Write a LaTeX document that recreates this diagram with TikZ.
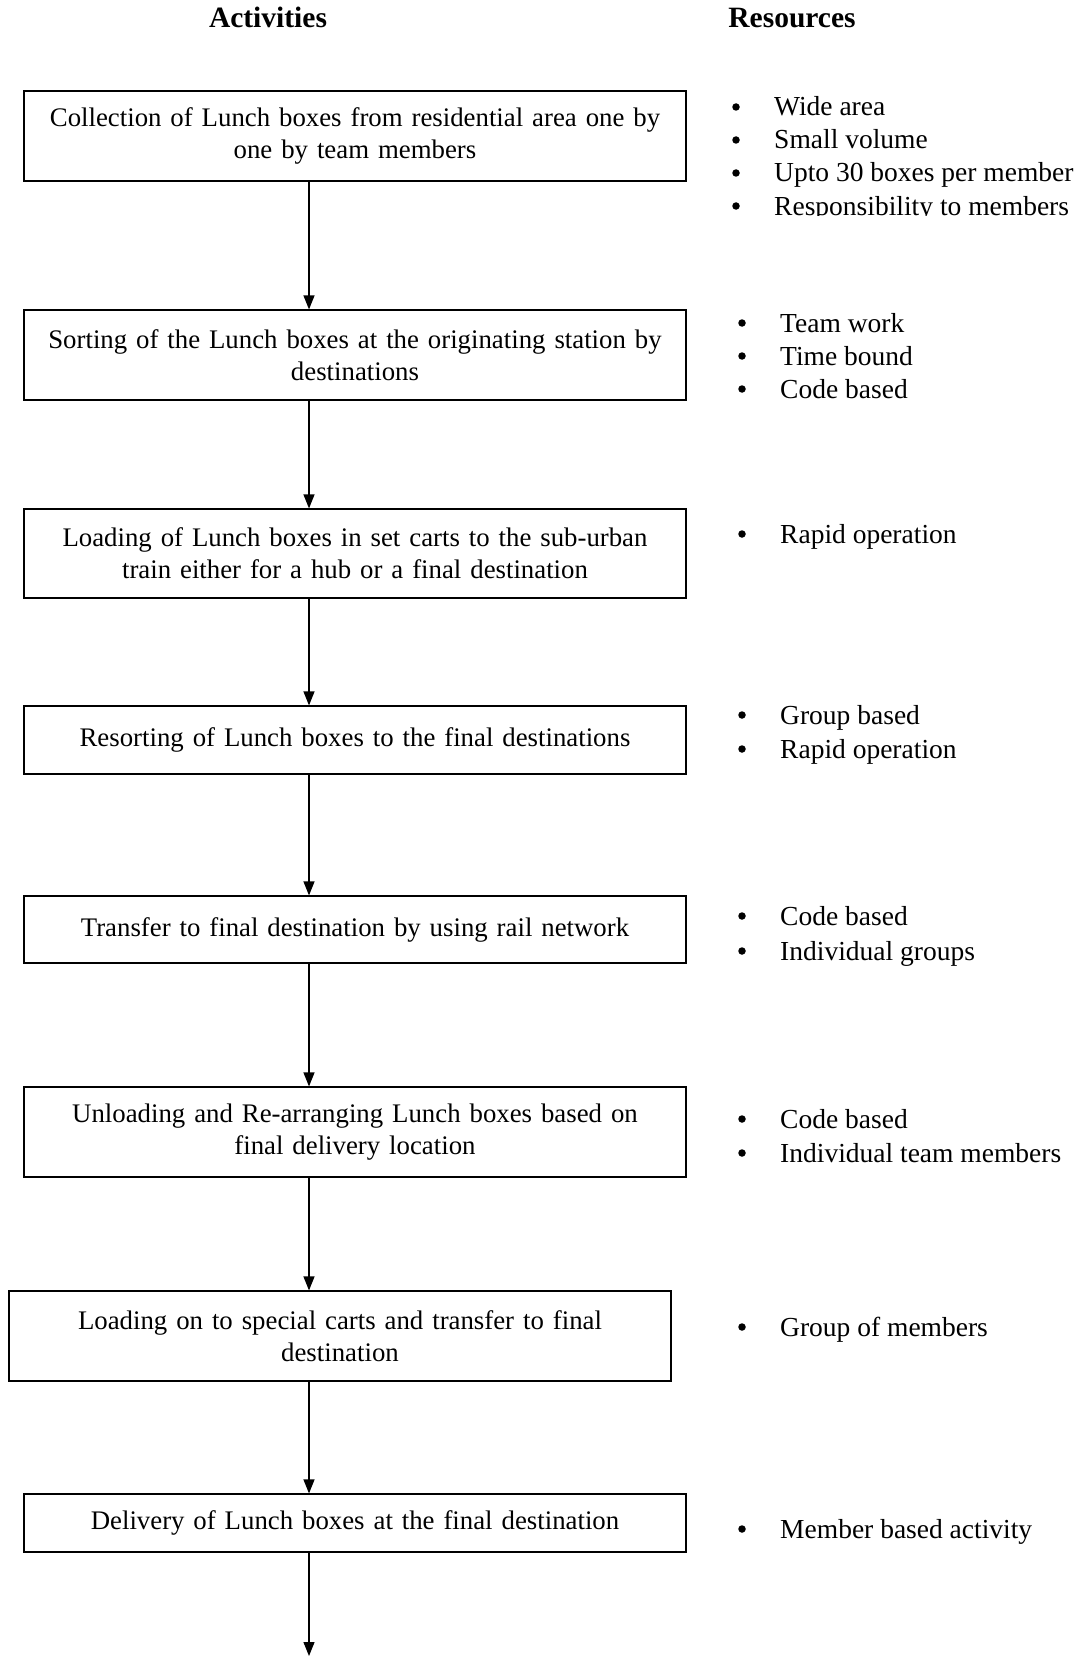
\documentclass[tikz,border=0pt]{standalone}
\usepackage{fontspec}
\setmainfont{Liberation Serif}
\usetikzlibrary{arrows.meta, positioning}

\tikzset{
  stage/.style={draw, line width=1.2pt, inner sep=0pt, text width=662pt, align=center, minimum height=#1,
    font=\fontsize{26.8}{32}\selectfont},
  stage/.default=90pt,
  flow/.style={line width=1.2pt, -{Triangle[length=14pt,width=11pt]}},
  item/.style={anchor=base west, inner sep=0pt},
  dot/.style={circle, fill, inner sep=0pt, minimum size=7.5pt},
  head/.style={anchor=base, inner sep=0pt, font=\fontsize{29.5}{33}\selectfont\bfseries}
}

\begin{document}
\begin{tikzpicture}[x=1pt, y=-1pt, font=\fontsize{27.5}{33}\selectfont]
\useasboundingbox (0,0) rectangle (1078,1656);

% headings
\node[head] (hact) at (268,28) {Activities};
\node[head] (hres) at (792,28) {Resources};

% activity boxes
\node[stage] (b1) at (355,136) {Collection of Lunch boxes from residential area one by\\one by team members};
\node[stage] (b2) at (355,355) {Sorting of the Lunch boxes at the originating station by\\destinations};
\node[stage=89pt] (b3) at (355,553.5) {Loading of Lunch boxes in set carts to the sub-urban\\train either for a hub or a final destination};
\node[stage=68pt] (b4) at (355,740) {Resorting of Lunch boxes to the final destinations};
\node[stage=67pt] (b5) at (355,929.5) {Transfer to final destination by using rail network};
\node[stage] (b6) at (355,1132) {Unloading and Re-arranging Lunch boxes based on\\final delivery location};
\node[stage] (b7) at (340,1336) {Loading on to special carts and transfer to final\\destination};
\node[stage=58pt] (b8) at (355,1523) {Delivery of Lunch boxes at the final destination};

\coordinate (ax) at (309,0);
\coordinate (tail) at (309,1656);

% arrows
\foreach \a/\b in {b1/b2, b2/b3, b3/b4, b4/b5, b5/b6, b6/b7, b7/b8}
  \draw[flow] (\a.south -| ax) -- (\b.north -| ax);
\draw[flow] (b8.south -| ax) -- (tail);

% resources
\begin{scope}
\clip (690,60) rectangle (1078,215);
\foreach \t [count=\i] in {Wide area, Small volume, Upto 30 boxes per member, Responsibility to members}{
  \node[dot] at (736,{107+33*(\i-1)}) {};
  \node[item] (r1-\i) at (774,{116+33*(\i-1)}) {\t};
}
\end{scope}
\foreach \t [count=\i] in {Team work, Time bound, Code based}{
  \node[dot] at (742,{323+33*(\i-1)}) {};
  \node[item] (r2-\i) at (780,{332+33*(\i-1)}) {\t};
}
\node[dot] at (742,534) {};
\node[item] (r3-1) at (780,543) {Rapid operation};
\foreach \t [count=\i] in {Group based, Rapid operation}{
  \node[dot] at (742,{715+34*(\i-1)}) {};
  \node[item] (r4-\i) at (780,{724+34*(\i-1)}) {\t};
}
\foreach \t [count=\i] in {Code based, Individual groups}{
  \node[dot] at (742,{916+35*(\i-1)}) {};
  \node[item] (r5-\i) at (780,{925+35*(\i-1)}) {\t};
}
\foreach \t [count=\i] in {Code based, Individual team members}{
  \node[dot] at (742,{1119+34*(\i-1)}) {};
  \node[item] (r6-\i) at (780,{1128+34*(\i-1)}) {\t};
}
\node[dot] at (742,1327) {};
\node[item] (r7-1) at (780,1336) {Group of members};
\node[dot] at (742,1529) {};
\node[item] (r8-1) at (780,1538) {Member based activity};

\end{tikzpicture}
\end{document}
